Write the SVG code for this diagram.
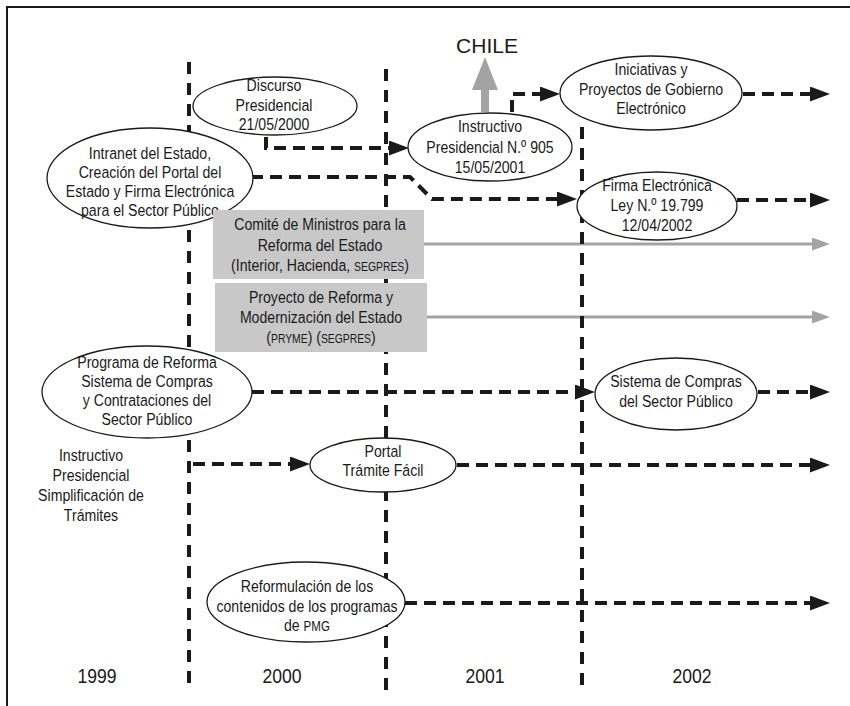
<svg xmlns="http://www.w3.org/2000/svg" width="850" height="706" viewBox="0 0 850 706">
<style>
.t{font-family:"Liberation Sans",Arial,Helvetica,sans-serif;font-size:17px;text-anchor:middle;fill:#1a1a1a}
.sc{font-size:12.5px}
.yr{font-family:"Liberation Sans",Arial,Helvetica,sans-serif;font-size:20px;text-anchor:middle;fill:#1a1a1a}
.el{fill:#fff;stroke:#1a1a1a;stroke-width:1.3}
.box{fill:#c8c8c8;stroke:none}
.dash{fill:none;stroke:#1a1a1a;stroke-width:4;stroke-dasharray:12 7}
.gray{fill:none;stroke:#a3a3a3;stroke-width:3}
.div{fill:none;stroke:#1a1a1a;stroke-width:4;stroke-dasharray:12 9}
</style>
<defs>
<marker id="ah" viewBox="0 0 20 15" refX="0" refY="7.5" markerWidth="20" markerHeight="15" markerUnits="userSpaceOnUse" orient="auto"><path d="M0,0 L20,7.5 L0,15 z" fill="#1a1a1a"/></marker>
<marker id="ahg" viewBox="0 0 18 13" refX="0" refY="6.5" markerWidth="18" markerHeight="13" markerUnits="userSpaceOnUse" orient="auto"><path d="M0,0 L18,6.5 L0,13 z" fill="#a3a3a3"/></marker>
</defs>
<rect width="850" height="706" fill="#fff"/>
<path d="M7,706 V7 H850" fill="none" stroke="#1a1a1a" stroke-width="2"/>

<g id="connectors">
<path class="gray" d="M424,244 H812" marker-end="url(#ahg)"/>
<path class="gray" d="M427,317 H812" marker-end="url(#ahg)"/>
<path class="dash" d="M266,137 V148 H389" marker-end="url(#ah)"/>
<path class="dash" d="M251,177 H410 L432,199 H557" marker-end="url(#ah)"/>
<path class="dash" d="M512,112 V94 H540" marker-end="url(#ah)"/>
<path class="dash" d="M743,94 H810" marker-end="url(#ah)"/>
<path class="dash" d="M737,200 H810" marker-end="url(#ah)"/>
<path class="dash" d="M252,392 H575" marker-end="url(#ah)"/>
<path class="dash" d="M758,392 H810" marker-end="url(#ah)"/>
<path class="dash" d="M193,464 H290" marker-end="url(#ah)"/>
<path class="dash" d="M457,465 H810" marker-end="url(#ah)"/>
<path class="dash" d="M405,603 H810" marker-end="url(#ah)"/>
<path d="M481,112 V90 H472 L485,57 L498,90 H489 V112 z" fill="#a3a3a3"/>
</g>

<g id="dividers">
<path class="div" d="M189,62 V688"/>
<path class="div" d="M386,69 V694"/>
<path class="div" d="M582,127 V690"/>
</g>

<g id="chile">
<text class="t" style="font-size:21px" x="487" y="53">CHILE</text>
</g>

<g id="discurso">
<ellipse class="el" cx="275" cy="106" rx="82" ry="29"/>
<text class="t" transform="translate(274,0) scale(0.83,1)"><tspan x="0" y="91">Discurso</tspan><tspan x="0" y="111">Presidencial</tspan><tspan x="0" y="130">21/05/2000</tspan></text>
</g>

<g id="intranet">
<ellipse class="el" cx="150" cy="178" rx="103" ry="50"/>
<text class="t" transform="translate(150,0) scale(0.83,1)"><tspan x="0" y="159">Intranet del Estado,</tspan><tspan x="0" y="178">Creación del Portal del</tspan><tspan x="0" y="197">Estado y Firma Electrónica</tspan><tspan x="0" y="216">para el Sector Público</tspan></text>
</g>

<g id="instructivo905">
<ellipse class="el" cx="490" cy="147" rx="82" ry="34"/>
<text class="t" transform="translate(490,0) scale(0.83,1)"><tspan x="0" y="132">Instructivo</tspan><tspan x="0" y="153">Presidencial N.º 905</tspan><tspan x="0" y="173">15/05/2001</tspan></text>
</g>

<g id="iniciativas">
<ellipse class="el" cx="651" cy="93" rx="91" ry="37"/>
<text class="t" transform="translate(651,0) scale(0.83,1)"><tspan x="0" y="75">Iniciativas y</tspan><tspan x="0" y="95">Proyectos de Gobierno</tspan><tspan x="0" y="114">Electrónico</tspan></text>
</g>

<g id="firma">
<ellipse class="el" cx="657" cy="206" rx="80" ry="34"/>
<text class="t" transform="translate(657,0) scale(0.83,1)"><tspan x="0" y="191">Firma Electrónica</tspan><tspan x="0" y="211">Ley N.º 19.799</tspan><tspan x="0" y="231">12/04/2002</tspan></text>
</g>

<g id="comite">
<rect class="box" x="213" y="210" width="211" height="69"/>
<text class="t" transform="translate(320,0) scale(0.83,1)"><tspan x="0" y="230">Comité de Ministros para la</tspan><tspan x="0" y="251">Reforma del Estado</tspan><tspan x="0" y="271">(Interior, Hacienda, <tspan class="sc">SEGPRES</tspan>)</tspan></text>
</g>

<g id="proyecto">
<rect class="box" x="215" y="283" width="212" height="69"/>
<text class="t" transform="translate(321,0) scale(0.83,1)"><tspan x="0" y="303">Proyecto de Reforma y</tspan><tspan x="0" y="323">Modernización del Estado</tspan><tspan x="0" y="343">(<tspan class="sc">PRYME</tspan>) (<tspan class="sc">SEGPRES</tspan>)</tspan></text>
</g>

<g id="programa">
<ellipse class="el" cx="147" cy="392" rx="105" ry="46"/>
<text class="t" transform="translate(147,0) scale(0.83,1)"><tspan x="0" y="368">Programa de Reforma</tspan><tspan x="0" y="387">Sistema de Compras</tspan><tspan x="0" y="406">y Contrataciones del</tspan><tspan x="0" y="425">Sector Público</tspan></text>
</g>

<g id="sistema">
<ellipse class="el" cx="676" cy="394" rx="81" ry="36"/>
<text class="t" transform="translate(676,0) scale(0.83,1)"><tspan x="0" y="387">Sistema de Compras</tspan><tspan x="0" y="407">del Sector Público</tspan></text>
</g>

<g id="simplificacion">
<text class="t" transform="translate(91,0) scale(0.83,1)"><tspan x="0" y="461">Instructivo</tspan><tspan x="0" y="481">Presidencial</tspan><tspan x="0" y="501">Simplificación de</tspan><tspan x="0" y="521">Trámites</tspan></text>
</g>

<g id="portal">
<ellipse class="el" cx="383" cy="465" rx="73" ry="27"/>
<text class="t" transform="translate(383,0) scale(0.83,1)"><tspan x="0" y="457">Portal</tspan><tspan x="0" y="476">Trámite Fácil</tspan></text>
</g>

<g id="reformulacion">
<ellipse class="el" cx="306" cy="602" rx="99" ry="40"/>
<text class="t" transform="translate(307,0) scale(0.83,1)"><tspan x="0" y="592">Reformulación de los</tspan><tspan x="0" y="612">contenidos de los programas</tspan><tspan x="0" y="631">de <tspan style="font-size:14px">PMG</tspan></tspan></text>
</g>

<g id="years">
<text class="yr" transform="translate(97,0) scale(0.88,1)" x="0" y="683">1999</text>
<text class="yr" transform="translate(282,0) scale(0.88,1)" x="0" y="683">2000</text>
<text class="yr" transform="translate(485,0) scale(0.88,1)" x="0" y="683">2001</text>
<text class="yr" transform="translate(692,0) scale(0.88,1)" x="0" y="683">2002</text>
</g>
</svg>
